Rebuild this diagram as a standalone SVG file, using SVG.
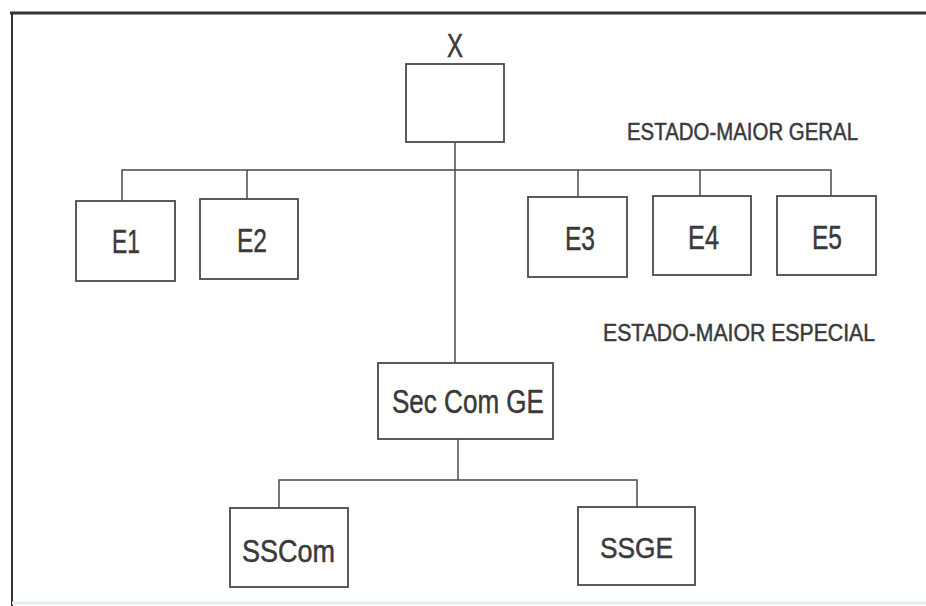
<svg xmlns="http://www.w3.org/2000/svg" width="926" height="606" viewBox="0 0 926 606">
<style>
.box{fill:#fff;stroke:#4a4a4a;stroke-width:1.8}
.lbl{font-family:"Liberation Sans",Arial,sans-serif;fill:#3a3a3a;stroke:#3a3a3a;stroke-width:0.5;text-anchor:start}
.conn{fill:none;stroke:#4a4a4a;stroke-width:1.5}
.frame{fill:none;stroke:#333;stroke-linecap:butt}
</style>
<rect x="0" y="0" width="926" height="606" fill="#fff"/>
<g id="frame">
<line class="frame" x1="10" y1="13" x2="926" y2="13" stroke-width="3"/>
<line class="frame" x1="12" y1="12" x2="12" y2="606" stroke-width="2"/>
<line x1="12" y1="603" x2="926" y2="603" stroke="#e3eef4" stroke-width="3"/>
</g>
<g id="connectors">
<line class="conn" x1="455" y1="142" x2="455" y2="363"/>
<polyline class="conn" points="122,201 122,170 831,170 831,196"/>
<line class="conn" x1="247" y1="170" x2="247" y2="199"/>
<line class="conn" x1="578" y1="170" x2="578" y2="197"/>
<line class="conn" x1="700" y1="170" x2="700" y2="196"/>
<line class="conn" x1="458" y1="439" x2="458" y2="480"/>
<polyline class="conn" points="279,508 279,480 637,480 637,507"/>
</g>
<g id="labels">
<text class="lbl" x="627" y="140" font-size="23.5" textLength="231" lengthAdjust="spacingAndGlyphs">ESTADO-MAIOR GERAL</text>
<text class="lbl" x="603" y="341" font-size="24" textLength="272" lengthAdjust="spacingAndGlyphs">ESTADO-MAIOR ESPECIAL</text>
</g>
<g id="node-x">
<text class="lbl" x="447" y="57" font-size="34" textLength="16" lengthAdjust="spacingAndGlyphs">X</text>
<rect class="box" x="406" y="64" width="98" height="78"/>
</g>
<g id="node-e1">
<rect class="box" x="76" y="201" width="99" height="80"/>
<text class="lbl" x="112" y="253" font-size="34" textLength="28" lengthAdjust="spacingAndGlyphs">E1</text>
</g>
<g id="node-e2">
<rect class="box" x="200" y="199" width="98" height="80"/>
<text class="lbl" x="237" y="252" font-size="34" textLength="30" lengthAdjust="spacingAndGlyphs">E2</text>
</g>
<g id="node-e3">
<rect class="box" x="528" y="197" width="99" height="80"/>
<text class="lbl" x="565" y="250" font-size="34" textLength="30" lengthAdjust="spacingAndGlyphs">E3</text>
</g>
<g id="node-e4">
<rect class="box" x="653" y="196" width="98" height="79"/>
<text class="lbl" x="688" y="249" font-size="34" textLength="31" lengthAdjust="spacingAndGlyphs">E4</text>
</g>
<g id="node-e5">
<rect class="box" x="777" y="196" width="99" height="79"/>
<text class="lbl" x="812" y="249" font-size="34" textLength="30" lengthAdjust="spacingAndGlyphs">E5</text>
</g>
<g id="node-seccomge">
<rect class="box" x="378" y="363" width="175" height="76"/>
<text class="lbl" x="392" y="413" font-size="34" textLength="152" lengthAdjust="spacingAndGlyphs">Sec Com GE</text>
</g>
<g id="node-sscom">
<rect class="box" x="230" y="508" width="118" height="79"/>
<text class="lbl" x="242" y="562" font-size="31" textLength="93" lengthAdjust="spacingAndGlyphs">SSCom</text>
</g>
<g id="node-ssge">
<rect class="box" x="578" y="507" width="117" height="78"/>
<text class="lbl" x="600" y="558" font-size="30" textLength="73" lengthAdjust="spacingAndGlyphs">SSGE</text>
</g>
</svg>
